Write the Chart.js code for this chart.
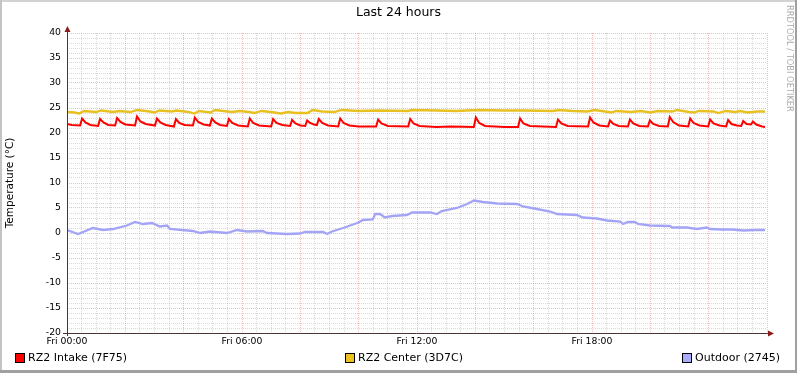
<!DOCTYPE html>
<html>
<head>
<meta charset="utf-8">
<script src="https://cdn.jsdelivr.net/npm/chart.js@4.4.0/dist/chart.umd.min.js"></script>
<style>
  html, body { margin: 0; padding: 0; background: #fff; }
  #wrap { position: relative; width: 797px; height: 373px; }
</style>
</head>
<body>
<div id="wrap"><canvas id="myChart" width="797" height="373"></canvas></div>
<script>
// время в минутах от Fri 00:00, значения в °C
const intake = [
  [0,21.8],[10,21.6],[27,21.5],[31,22.9],[38,22.1],[48,21.6],[64,21.4],[68,22.8],[75,22.1],[85,21.6],
  [99,21.5],[103,23.0],[110,22.2],[120,21.7],[140,21.5],[144,23.3],[151,22.3],[162,21.8],[181,21.5],
  [185,22.9],[192,22.1],[203,21.6],[220,21.3],[224,22.8],[231,22.0],[242,21.6],[259,21.5],[263,23.1],
  [270,22.2],[281,21.7],[294,21.5],[298,22.9],[305,22.1],[315,21.6],[329,21.4],[333,22.8],[340,22.0],
  [352,21.5],[372,21.3],[376,22.9],[383,22.0],[395,21.5],[420,21.3],[424,22.8],[431,22.0],[443,21.6],
  [459,21.4],[463,22.6],[470,21.9],[480,21.5],[490,21.4],[494,22.5],[500,22.0],[508,21.7],[514,21.6],
  [518,22.8],[525,22.0],[537,21.5],[558,21.3],[562,22.9],[569,22.0],[581,21.5],[600,21.3],[636,21.3],
  [640,22.7],[647,21.9],[660,21.4],[702,21.3],[706,22.8],[713,21.9],[725,21.4],[760,21.2],[790,21.3],
  [837,21.2],[841,23.1],[848,22.0],[860,21.4],[900,21.2],[928,21.2],[932,22.9],[939,21.9],[952,21.4],
  [1006,21.2],[1010,22.7],[1017,21.9],[1030,21.4],[1072,21.3],[1076,23.1],[1083,22.1],[1095,21.5],
  [1113,21.3],[1117,22.5],[1124,21.8],[1135,21.4],[1154,21.3],[1158,22.7],[1165,21.9],[1177,21.4],
  [1195,21.3],[1199,22.5],[1206,21.8],[1218,21.4],[1236,21.3],[1240,23.2],[1247,22.2],[1259,21.5],
  [1278,21.3],[1282,22.9],[1289,22.0],[1301,21.5],[1319,21.3],[1323,22.7],[1330,21.9],[1342,21.5],
  [1356,21.3],[1360,22.6],[1367,21.8],[1378,21.5],[1387,21.4],[1391,22.4],[1398,21.8],[1407,21.7],
  [1411,22.3],[1418,21.7],[1430,21.3],[1436,21.2]
]

const center = [
  [0,24.2],[15,24.1],[25,23.9],[35,24.4],[60,24.2],[70,24.5],[95,24.2],[108,24.4],[130,24.2],[145,24.6],
  [170,24.3],[180,24.1],[190,24.5],[215,24.3],[225,24.5],[250,24.2],[262,23.9],[272,24.4],[295,24.1],
  [305,24.6],[330,24.3],[340,24.2],[355,24.4],[375,24.2],[385,24.0],[400,24.4],[420,24.2],[440,23.9],
  [455,24.2],[470,24.0],[495,24.0],[505,24.6],[525,24.3],[550,24.2],[565,24.6],[600,24.4],[640,24.5],
  [700,24.4],[712,24.6],[760,24.5],[800,24.4],[845,24.6],[900,24.5],[940,24.5],[1000,24.4],[1012,24.6],
  [1040,24.4],[1070,24.3],[1085,24.6],[1100,24.4],[1120,24.1],[1130,24.4],[1160,24.2],[1180,24.4],
  [1200,24.1],[1215,24.4],[1245,24.3],[1255,24.6],[1280,24.2],[1290,24.1],[1300,24.4],[1330,24.3],
  [1340,24.0],[1355,24.4],[1375,24.2],[1385,24.4],[1400,24.1],[1420,24.3],[1436,24.3]
]

const outdoor = [
  [0,0.6],[23,-0.2],[53,1.0],[74,0.6],[95,0.8],[123,1.5],[140,2.2],[156,1.8],[175,2.0],[191,1.3],
  [206,1.5],[212,0.8],[259,0.4],[274,0.0],[294,0.3],[329,0.0],[350,0.6],[370,0.3],[403,0.4],[411,0.0],
  [453,-0.2],[479,-0.1],[490,0.2],[527,0.2],[535,-0.2],[545,0.3],[568,1.0],[597,2.0],[609,2.6],[629,2.7],
  [634,3.8],[644,3.8],[654,3.1],[669,3.4],[699,3.6],[710,4.1],[747,4.1],[761,3.8],[771,4.4],[802,5.0],
  [823,5.8],[837,6.5],[856,6.2],[885,5.9],[926,5.8],[938,5.3],[967,4.8],[994,4.3],[1008,3.8],[1049,3.6],
  [1061,3.1],[1090,2.9],[1111,2.5],[1138,2.3],[1144,1.8],[1154,2.2],[1168,2.2],[1175,1.8],[1199,1.5],
  [1240,1.4],[1245,1.1],[1275,1.1],[1296,0.8],[1316,1.1],[1323,0.8],[1347,0.7],[1370,0.7],[1391,0.5],
  [1415,0.6],[1436,0.6]
]

const seriesNames = ['RZ2 Intake (7F75)', 'RZ2 Center (3D7C)', 'Outdoor (2745)']
const xTickMinutes = [0, 360, 720, 1080]
const xTickLabels = ['Fri 00:00', 'Fri 06:00', 'Fri 12:00', 'Fri 18:00']

const FONT = 'DejaVu Sans'
const lineColors = ['#ff0000', '#e8c020', '#a4a4f6']
const legendColors = ['#ff0000', '#eec21e', '#aaaaff']
const legendX = [15, 345, 682]
const majorGrid = 'rgba(230,90,90,0.42)'
const minorGrid = 'rgba(120,120,120,0.28)'

// подписи, рамка, стрелки осей и легенда в стиле rrdtool
const rrdLook = {
  id: 'rrdLook',
  beforeDraw(chart) {
    const ctx = chart.ctx
    ctx.save()
    ctx.fillStyle = '#ffffff'
    ctx.fillRect(0, 0, chart.width, chart.height)
    ctx.restore()
  },
  afterDraw(chart) {
    const ctx = chart.ctx
    const a = chart.chartArea
    ctx.save()

    // рамка
    ctx.fillStyle = '#d2d2d2'
    ctx.fillRect(0, 0, chart.width, 2)
    ctx.fillStyle = '#c4c4c4'
    ctx.fillRect(0, 0, 2, chart.height)
    ctx.fillStyle = '#a0a0a0'
    ctx.fillRect(0, chart.height - 3, chart.width, 3)
    ctx.fillRect(chart.width - 2, 0, 2, chart.height)

    // оси
    ctx.strokeStyle = '#4a3434'
    ctx.lineWidth = 1
    ctx.beginPath()
    ctx.moveTo(a.left + 0.5, a.bottom + 3)
    ctx.lineTo(a.left + 0.5, a.top - 3)
    ctx.moveTo(a.left - 4, a.bottom + 0.5)
    ctx.lineTo(a.right + 3, a.bottom + 0.5)
    ctx.stroke()

    ctx.fillStyle = '#8b1a1a'
    ctx.beginPath()
    ctx.moveTo(a.left + 0.5, a.top - 7)
    ctx.lineTo(a.left - 2.5, a.top - 1)
    ctx.lineTo(a.left + 3.5, a.top - 1)
    ctx.closePath()
    ctx.fill()
    ctx.beginPath()
    ctx.moveTo(a.right + 7, a.bottom + 0.5)
    ctx.lineTo(a.right + 1, a.bottom - 2.5)
    ctx.lineTo(a.right + 1, a.bottom + 3.5)
    ctx.closePath()
    ctx.fill()

    // заголовок
    ctx.fillStyle = '#000'
    ctx.font = '12.5px "' + FONT + '"'
    ctx.textAlign = 'center'
    ctx.textBaseline = 'middle'
    ctx.fillText('Last 24 hours', 398.5, 13)

    // подпись оси Y
    ctx.save()
    ctx.translate(10, 183)
    ctx.rotate(-Math.PI / 2)
    ctx.font = '10.5px "' + FONT + '"'
    ctx.fillText('Temperature (°C)', 0, 0)
    ctx.restore()

    // водяной знак справа
    ctx.save()
    ctx.translate(789, 5)
    ctx.rotate(Math.PI / 2)
    ctx.font = '8.3px "' + FONT + '"'
    ctx.fillStyle = '#acacac'
    ctx.textAlign = 'left'
    ctx.fillText('RRDTOOL / TOBI OETIKER', 0, 0)
    ctx.restore()

    // легенда
    ctx.font = '11px "' + FONT + '"'
    ctx.textAlign = 'left'
    for (let i = 0; i < seriesNames.length; i++) {
      const x = legendX[i]
      ctx.fillStyle = legendColors[i]
      ctx.fillRect(x, 353, 10, 10)
      ctx.strokeStyle = '#000'
      ctx.strokeRect(x + 0.5, 353.5, 9, 9)
      ctx.fillStyle = '#000'
      ctx.fillText(seriesNames[i], x + 13, 358.5)
    }
    ctx.restore()
  }
}

const toPoints = arr => arr.map(p => ({ x: p[0], y: p[1] }))

new Chart(document.getElementById('myChart'), {
  type: 'line',
  data: {
    datasets: [intake, center, outdoor].map((d, i) => ({
      label: seriesNames[i],
      data: toPoints(d),
      borderColor: lineColors[i],
      borderWidth: i === 0 ? 2 : 2.3,
      pointRadius: 0,
      tension: 0,
      fill: false
    }))
  },
  options: {
    responsive: false,
    animation: false,
    events: [],
    layout: { padding: { left: 0, top: 33, right: 30, bottom: 20 } },
    plugins: {
      legend: { display: false },
      title: { display: false },
      tooltip: { enabled: false }
    },
    scales: {
      x: {
        type: 'linear',
        min: 0,
        max: 1440,
        afterFit: s => { s.height = 20 },
        border: { display: false, dash: [1, 1] },
        grid: {
          drawTicks: false,
          color: c => c.tick.value % 120 === 0 ? majorGrid : minorGrid
        },
        ticks: {
          stepSize: 30,
          autoSkip: false,
          maxRotation: 0,
          padding: 3,
          color: '#000',
          font: { family: FONT, size: 9.3 },
          callback: v => {
            const k = xTickMinutes.indexOf(v)
            return k >= 0 ? xTickLabels[k] : ''
          }
        }
      },
      y: {
        min: -20,
        max: 40,
        afterFit: s => { s.width = 67 },
        border: { display: false, dash: [1, 1] },
        grid: {
          drawTicks: false,
          color: c => c.tick.value % 5 === 0 ? majorGrid : minorGrid
        },
        ticks: {
          stepSize: 1,
          maxTicksLimit: 100,
          autoSkip: false,
          padding: 6,
          color: '#000',
          font: { family: FONT, size: 9.3 },
          callback: v => v % 5 === 0 ? String(v) : ''
        }
      }
    }
  },
  plugins: [rrdLook]
})
</script>
</body>
</html>
